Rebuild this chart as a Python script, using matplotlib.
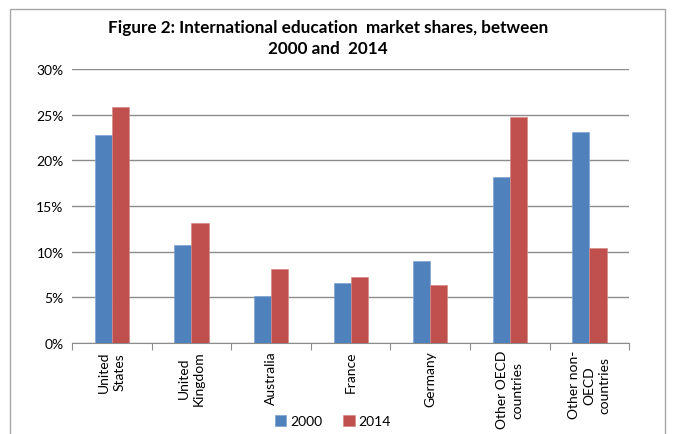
import numpy as np
import matplotlib
matplotlib.use("Agg")
import matplotlib.pyplot as plt
from matplotlib.patches import Rectangle
from matplotlib.ticker import PercentFormatter

categories = ["United\nStates", "United\nKingdom", "Australia", "France",
              "Germany", "Other OECD\ncountries", "Other non-\nOECD\ncountries"]
share_2000 = [22.8, 10.7, 5.1, 6.6, 9.0, 18.2, 23.1]
share_2014 = [25.8, 13.1, 8.1, 7.2, 6.4, 24.7, 10.4]

plt.rcParams['font.family'] = ['Lato', 'DejaVu Sans']

fig = plt.figure(figsize=(6.73, 4.35), dpi=100)
ax = fig.add_axes([0.107, 0.209, 0.828, 0.630])

# outer chart frame
fig.patches.append(Rectangle((10 / 673, -0.1), 655 / 673, 1.1 - 10 / 435,
                             transform=fig.transFigure, fill=False,
                             edgecolor='#a6a6a6', linewidth=1.0))

x = np.arange(len(categories))
w = 0.215
ax.bar(x - w / 2, share_2000, w, color='#4F81BD', edgecolor='#7fa3d0',
       linewidth=0.5, label='2000', zorder=3)
ax.bar(x + w / 2, share_2014, w, color='#C0504D', edgecolor='#d88a88',
       linewidth=0.5, label='2014', zorder=3)

ax.set_xlim(-0.5, len(categories) - 0.5)
ax.set_ylim(0, 30)
ax.set_yticks(range(0, 31, 5))
ax.yaxis.set_major_formatter(PercentFormatter(decimals=0))
ax.grid(axis='y', color='#8c8c8c', linewidth=1.0, zorder=0)

for s in ['top', 'right', 'left']:
    ax.spines[s].set_visible(False)
ax.spines['bottom'].set_color('#8c8c8c')

ax.set_xticks(np.arange(-0.5, len(categories), 1))
ax.set_xticklabels([])
ax.tick_params(axis='x', length=5, color='#8c8c8c')
ax.tick_params(axis='y', length=0, labelsize=10, pad=6)

for i, c in enumerate(categories):
    ax.annotate(c, (i, 0), xycoords=('data', 'axes fraction'),
                xytext=(0, -5), textcoords='offset points',
                rotation=90, ha='center', va='top', fontsize=10,
                multialignment='center', linespacing=1.3)

fig.text(0.487, 0.955, "Figure 2: International education  market shares, between\n2000 and  2014",
         ha='center', va='top', fontsize=12.3, fontweight='bold',
         linespacing=1.4)

fig.legend(loc='center', bbox_to_anchor=(0.495, 0.03), ncol=2, frameon=False,
           fontsize=10, handlelength=0.8, handleheight=0.8, columnspacing=1.5,
           handletextpad=0.3)

fig.savefig("out.png", dpi=100)
